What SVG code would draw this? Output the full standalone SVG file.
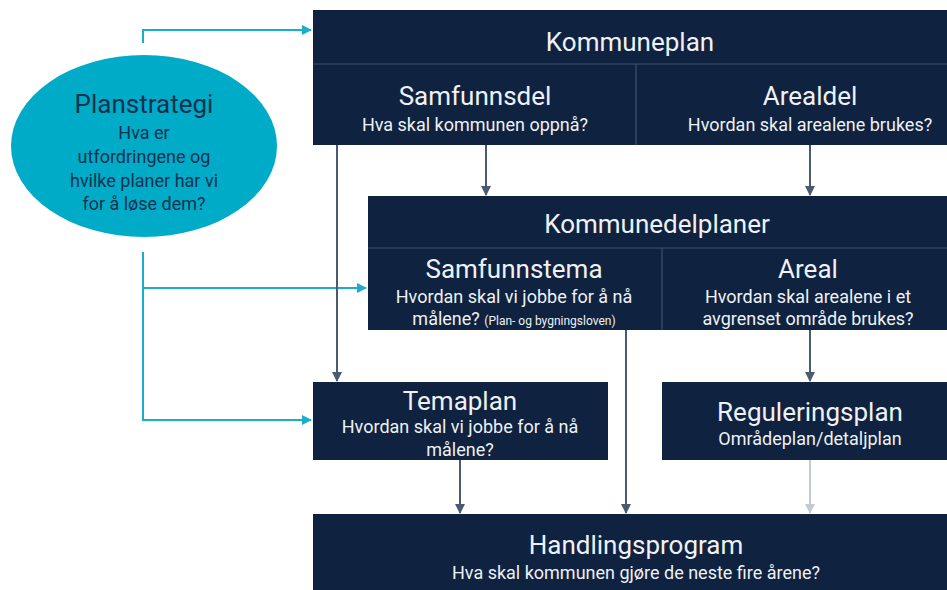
<svg xmlns="http://www.w3.org/2000/svg" width="947" height="590" viewBox="0 0 947 590">
<defs>
<marker id="ag" viewBox="0 0 10 10" refX="9" refY="5" markerWidth="5" markerHeight="5" orient="auto"><path d="M0,0 L10,5 L0,10 z" fill="#4a5a70"/></marker>
<marker id="al" viewBox="0 0 10 10" refX="9" refY="5" markerWidth="5" markerHeight="5" orient="auto"><path d="M0,0 L10,5 L0,10 z" fill="#c4cad3"/></marker>
<marker id="ac" viewBox="0 0 10 10" refX="9" refY="5" markerWidth="5" markerHeight="5" orient="auto"><path d="M0,0 L10,5 L0,10 z" fill="#1aaecb"/></marker>
</defs>
<style>
text{font-family:Roboto,"Liberation Sans",sans-serif;text-anchor:middle;fill:#eef1f5}
.box{fill:#0f223f}
.div{stroke:#3e526c;stroke-width:1.2}
.t{font-size:26px}
.s{font-size:18px}
.xs{font-size:12px}
.g{fill:none;stroke:#4a5a70;stroke-width:2;marker-end:url(#ag)}
.l{fill:none;stroke:#c4cad3;stroke-width:2;marker-end:url(#al)}
.c{fill:none;stroke:#1aaecb;stroke-width:2;marker-end:url(#ac)}
.e text{fill:#123150}
</style>
<rect width="947" height="590" fill="#ffffff"/>
<g id="connectors">
<polyline class="c" points="143,43 143,30 311,30"/>
<polyline class="c" points="143,252 143,288 366,288"/>
<polyline class="c" points="143,288 143,420 311,420"/>
<line class="g" x1="337" y1="145" x2="337" y2="381"/>
<line class="g" x1="486" y1="145" x2="486" y2="195"/>
<line class="g" x1="810" y1="145" x2="810" y2="195"/>
<line class="g" x1="810" y1="330" x2="810" y2="381"/>
<line class="g" x1="626" y1="330" x2="626" y2="513"/>
<line class="g" x1="460" y1="460" x2="460" y2="513"/>
<line class="l" x1="810" y1="460" x2="810" y2="513"/>
</g>
<g id="planstrategi" class="e">
<ellipse cx="144" cy="146" rx="133" ry="91" fill="#00abc7"/>
<text x="144" y="113" style="font-size:26px">Planstrategi</text>
<text x="144" y="139" class="s">Hva er</text>
<text x="144" y="163" class="s">utfordringene og</text>
<text x="144" y="187" class="s">hvilke planer har vi</text>
<text x="144" y="210" class="s">for å løse dem?</text>
</g>
<g id="kommuneplan">
<rect class="box" x="313" y="10" width="634" height="135"/>
<line class="div" x1="313" y1="64" x2="947" y2="64"/>
<line class="div" x1="636" y1="64" x2="636" y2="145"/>
<text x="630" y="51" class="t">Kommuneplan</text>
<text x="475" y="105" class="t">Samfunnsdel</text>
<text x="475" y="131" class="s">Hva skal kommunen oppnå?</text>
<text x="810" y="105" class="t">Arealdel</text>
<text x="810" y="131" class="s">Hvordan skal arealene brukes?</text>
</g>
<g id="kommunedelplaner">
<rect class="box" x="368" y="196" width="579" height="134"/>
<line class="div" x1="368" y1="248" x2="947" y2="248"/>
<line class="div" x1="662" y1="248" x2="662" y2="330"/>
<text x="657" y="233" class="t">Kommunedelplaner</text>
<text x="514" y="278" class="t">Samfunnstema</text>
<text x="514" y="303" class="s">Hvordan skal vi jobbe for å nå</text>
<text x="514" y="325" class="s">målene? <tspan class="xs">(Plan- og bygningsloven)</tspan></text>
<text x="808" y="278" class="t">Areal</text>
<text x="808" y="303" class="s">Hvordan skal arealene i et</text>
<text x="808" y="325" class="s">avgrenset område brukes?</text>
</g>
<g id="temaplan">
<rect class="box" x="313" y="382" width="295" height="78"/>
<text x="460" y="410" class="t">Temaplan</text>
<text x="460" y="433" class="s">Hvordan skal vi jobbe for å nå</text>
<text x="460" y="456" class="s">målene?</text>
</g>
<g id="reguleringsplan">
<rect class="box" x="662" y="382" width="285" height="78"/>
<text x="810" y="421" class="t">Reguleringsplan</text>
<text x="810" y="445" class="s">Områdeplan/detaljplan</text>
</g>
<g id="handlingsprogram">
<rect class="box" x="313" y="514" width="634" height="76"/>
<text x="636" y="554" class="t">Handlingsprogram</text>
<text x="636" y="579" class="s">Hva skal kommunen gjøre de neste fire årene?</text>
</g>
</svg>
